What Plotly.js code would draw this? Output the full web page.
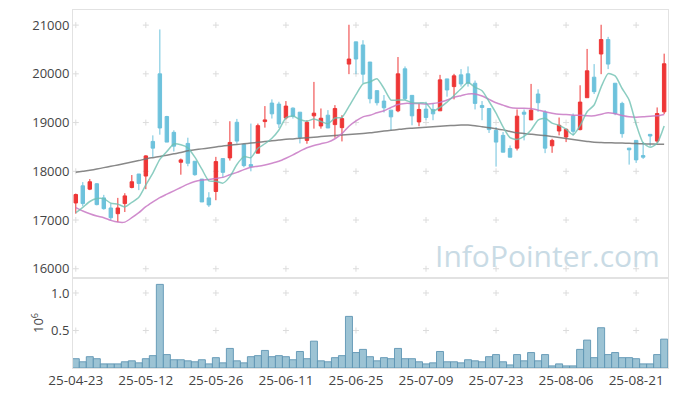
<!DOCTYPE html>
<html><head><meta charset="utf-8">
<script src="https://cdn.plot.ly/plotly-3.0.1.min.js"></script>
<style>html,body{margin:0;padding:0;background:#fff}#chart{width:677px;height:396px}</style>
</head><body><div id="chart"></div>
<script>
const dates = ['25-04-23','25-04-24','25-04-25','25-04-28','25-04-29','25-04-30','25-05-02','25-05-07','25-05-08','25-05-09',
'25-05-12','25-05-13','25-05-14','25-05-15','25-05-16','25-05-19','25-05-20','25-05-21','25-05-22','25-05-23',
'25-05-26','25-05-27','25-05-28','25-05-29','25-05-30','25-06-02','25-06-04','25-06-05','25-06-09','25-06-10',
'25-06-11','25-06-12','25-06-13','25-06-16','25-06-17','25-06-18','25-06-19','25-06-20','25-06-23','25-06-24',
'25-06-25','25-06-26','25-06-27','25-06-30','25-07-01','25-07-02','25-07-03','25-07-04','25-07-07','25-07-08',
'25-07-09','25-07-10','25-07-11','25-07-14','25-07-15','25-07-16','25-07-17','25-07-18','25-07-21','25-07-22',
'25-07-23','25-07-24','25-07-25','25-07-28','25-07-29','25-07-30','25-07-31','25-08-01','25-08-04','25-08-05',
'25-08-06','25-08-07','25-08-08','25-08-11','25-08-12','25-08-13','25-08-14','25-08-18','25-08-19','25-08-20',
'25-08-21','25-08-22','25-08-25','25-08-26','25-08-27'];

const openP = [17350,17702,17633,17744,17454,17247,17130,17337,17668,17944,
17902,18613,20000,19124,18799,18185,18572,18206,17840,17454,
17585,18261,18275,19006,18551,18137,18372,19020,19400,19379,
19096,19296,19213,18634,19138,18930,19151,18958,18896,20200,
20656,20593,20242,19655,19441,19255,19241,20103,19558,19013,
19276,19269,19241,19896,19738,19979,20000,19807,19351,19289,
18841,18737,18468,18475,19213,19055,19586,19213,18523,18827,
18703,19138,18855,19510,19931,20407,20704,19807,19393,18475,
18634,18323,18758,18620,19220];
const highP = [17543,17778,17840,17758,17516,17330,17454,17550,17923,17944,
18330,18737,20911,19138,18841,18261,18689,18206,17840,17571,
18296,18261,19027,19075,18551,18979,18979,19338,19476,19427,
19441,19310,19213,19048,19834,19289,19255,19358,19151,21007,
20656,20690,20242,19655,19565,19255,20345,20152,19558,19393,
19427,19393,19979,19896,20000,20097,20152,19862,19441,19289,
18910,18806,18530,19269,19269,19793,19683,19255,18668,19103,
18875,19186,19765,20511,20200,21007,20759,19807,19427,18475,
18634,18599,18758,19310,20414];
const lowP = [17130,17281,17613,17302,17212,16992,16957,17164,17650,17613,
17633,18289,18751,18599,18406,17930,18103,17909,17371,17268,
17406,17875,18220,18565,18082,17999,18372,18896,19082,18889,
19062,19082,18572,18565,18875,18875,18889,18689,18613,19993,
19993,19807,19393,19351,19207,18841,19213,19462,18944,18924,
19048,19048,19241,19531,19476,19738,19738,19269,19048,18786,
18096,18392,18289,18427,18634,19055,19220,18372,18379,18737,
18599,18737,18841,19510,19586,19993,20097,19151,18689,18137,
18172,18254,18510,18579,19172];
const closeP = [17523,17337,17785,17316,17233,17047,17247,17495,17785,17751,
18316,18475,18889,18599,18516,18234,18165,17930,17371,17309,
18199,17978,18592,18620,18116,18096,18937,19055,19179,18972,
19338,19131,18696,19006,19193,19089,18889,19289,19082,20304,
20304,19993,19489,19407,19303,19117,20000,19489,19138,19269,
19103,19179,19876,19669,19959,19793,19807,19393,19310,18855,
18599,18392,18289,19131,19172,19255,19407,18475,18634,18944,
18862,18820,19420,20062,19634,20704,20200,19186,18772,18441,
18234,18289,18724,19186,20207];

const ma5 = [17150,17260,17380,17440,17439,17344,17326,17268,17361,17465,
17719,17964,18243,18406,18559,18543,18481,18289,18043,17802,
17795,17757,17890,18140,18301,18280,18472,18565,18677,18848,
19096,19135,19063,19029,19073,19023,18975,19093,19108,19331,
19574,19794,19834,19899,19699,19462,19463,19463,19409,19403,
19400,19236,19313,19419,19557,19695,19821,19724,19652,19432,
19193,18910,18689,18653,18717,18848,19051,19088,18989,18943,
18864,18747,18936,19222,19360,19728,20004,19957,19699,19461,
18967,18584,18492,18575,18928];
const ma20 = [17254,17185,17130,17082,17047,16992,16957,16957,17047,17150,
17275,17371,17461,17530,17599,17668,17737,17792,17820,17833,
17854,17875,17930,17978,18034,18082,18103,18130,18165,18206,
18268,18337,18413,18482,18530,18565,18599,18668,18772,18924,
19034,19117,19151,19200,19241,19310,19372,19393,19393,19393,
19379,19393,19414,19462,19517,19552,19586,19586,19545,19476,
19407,19358,19310,19296,19296,19289,19255,19220,19193,19172,
19165,19151,19151,19138,19138,19172,19200,19179,19144,19117,
19110,19117,19131,19138,19165];
const ma60 = [17978,18000,18020,18045,18075,18103,18130,18160,18190,18220,
18254,18280,18305,18330,18358,18385,18420,18440,18460,18480,
18500,18520,18535,18550,18565,18580,18595,18610,18625,18640,
18655,18665,18678,18689,18700,18712,18723,18733,18745,18756,
18767,18778,18790,18808,18825,18841,18858,18875,18885,18895,
18905,18915,18925,18935,18942,18948,18950,18935,18915,18895,
18875,18850,18818,18790,18775,18760,18745,18735,18715,18695,
18672,18650,18630,18612,18595,18590,18585,18582,18579,18575,
18570,18565,18560,18557,18555];

const volume = [124000,83000,151000,124000,55000,55000,55000,83000,96000,69000,
124000,165000,1115000,179000,110000,110000,96000,83000,110000,55000,
138000,69000,261000,96000,69000,151000,165000,234000,151000,165000,
151000,110000,220000,124000,358000,96000,83000,138000,165000,688000,
206000,248000,151000,96000,138000,124000,261000,124000,124000,83000,
55000,69000,220000,83000,83000,69000,110000,96000,83000,151000,
179000,83000,41000,179000,96000,206000,96000,179000,28000,55000,
28000,28000,248000,372000,138000,537000,179000,206000,138000,138000,
124000,55000,55000,179000,385000];

const xTickLabels = ['25-04-23','25-05-12','25-05-26','25-06-11','25-06-25','25-07-09','25-07-23','25-08-06','25-08-21'];
const priceTicks = [16000,17000,18000,19000,20000,21000];
const volTicks = [0.5,1.0];

const upColor = '#ee3636', downColor = '#6dc2dc';
const gridColor = '#dcdcdc';

const traces = [
  {type:'candlestick', x:dates, open:openP, high:highP, low:lowP, close:closeP,
   xaxis:'x', yaxis:'y', hoverinfo:'skip',
   increasing:{line:{color:upColor,width:1}, fillcolor:upColor},
   decreasing:{line:{color:downColor,width:1}, fillcolor:downColor}},
  {type:'scatter', mode:'lines', x:dates, y:ma60, xaxis:'x', yaxis:'y', hoverinfo:'skip',
   line:{color:'rgba(115,115,115,0.85)', width:1.5, shape:'spline', smoothing:0.6}},
  {type:'scatter', mode:'lines', x:dates, y:ma20, xaxis:'x', yaxis:'y', hoverinfo:'skip',
   line:{color:'rgba(200,120,196,0.85)', width:1.5, shape:'spline', smoothing:0.6}},
  {type:'scatter', mode:'lines', x:dates, y:ma5, xaxis:'x', yaxis:'y', hoverinfo:'skip',
   line:{color:'rgba(110,192,178,0.8)', width:1.5, shape:'spline', smoothing:0.6}},
  {type:'bar', x:dates, y:volume.map(v => v/1e6), xaxis:'x', yaxis:'y2', hoverinfo:'skip',
   marker:{color:'rgba(145,189,207,0.9)', line:{color:'rgba(95,150,180,0.9)', width:1}}}
];

// grid "crosses" at tick intersections
const shapes = [];
function addCross(xcat, yval, yref) {
  const xi = dates.indexOf(xcat);
  shapes.push({type:'line', layer:'below', xref:'x', yref:yref, xsizemode:'pixel', xanchor:xi,
    x0:-3, x1:3, y0:yval, y1:yval, line:{color:gridColor, width:1}});
  shapes.push({type:'line', layer:'below', xref:'x', yref:yref, ysizemode:'pixel', yanchor:yval,
    x0:xi, x1:xi, y0:-3, y1:3, line:{color:gridColor, width:1}});
}
xTickLabels.forEach(xl => {
  priceTicks.forEach(p => addCross(xl, p, 'y'));
  volTicks.forEach(v => addCross(xl, v, 'y2'));
});

const axLine = '#e2e2e2';
const layout = {
  width:677, height:396,
  margin:{l:73, r:9, t:10, b:28},
  paper_bgcolor:'#ffffff', plot_bgcolor:'#ffffff',
  showlegend:false,
  font:{family:'"Open Sans", "Noto Sans", sans-serif', size:13, color:'#444'},
  bargap:0,
  xaxis:{type:'category', categoryorder:'array', categoryarray:dates,
    range:[-0.4, 84.55], tickmode:'array', tickvals:xTickLabels, ticktext:xTickLabels,
    showgrid:false, zeroline:false, showline:true, mirror:'all', linecolor:axLine, linewidth:1,
    ticks:'', anchor:'y2', rangeslider:{visible:false}, tickfont:{size:13.5, color:'#444'}},
  yaxis:{domain:[0.2514,1], range:[15810,21310], tickmode:'array', tickvals:priceTicks, tickformat:'d',
    showgrid:false, zeroline:false, showline:true, mirror:true, linecolor:axLine, linewidth:1, ticks:'',
    tickfont:{size:13, color:'#444'}},
  yaxis2:{domain:[0,0.2514], range:[0,1.2], tickmode:'array', tickvals:volTicks, tickformat:'.1f',
    showgrid:false, zeroline:false, showline:true, mirror:true, linecolor:axLine, linewidth:1, ticks:'',
    tickfont:{size:13, color:'#444'},
    title:{text:'10<sup>6</sup>', standoff:4, font:{size:13, color:'#444'}}},
  shapes:shapes,
  annotations:[{text:'InfoPointer.com', xref:'paper', yref:'paper', x:0.99, y:0.315,
    xanchor:'right', yanchor:'middle', showarrow:false,
    font:{family:'"Open Sans", sans-serif', size:30, color:'#c9dbe5'}}]
};

Plotly.newPlot('chart', traces, layout, {staticPlot:true, displayModeBar:false});
</script>
</body></html>
